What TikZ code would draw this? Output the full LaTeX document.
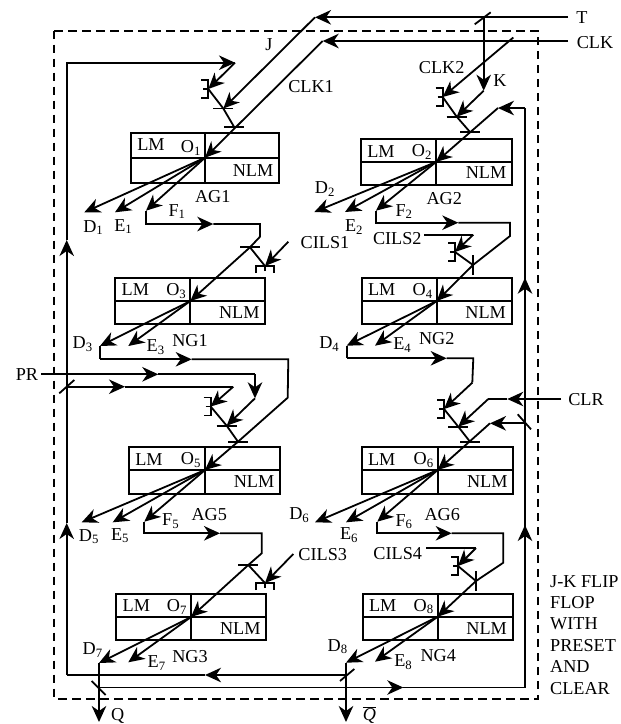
\documentclass[tikz,border=0pt]{standalone}
\usepackage{fontspec}
\setmainfont{Liberation Serif}
\usepackage{tikz}
\usetikzlibrary{arrows.meta}
\begin{document}
\begin{tikzpicture}[
  x=1pt,y=-1pt,
  font=\fontsize{18.2}{21}\selectfont,
  wire/.style={line width=1.8pt,draw=black,line join=miter},
  arr/.style={wire,-{Stealth[length=16pt,width=14.5pt,inset=5pt]}},
  gatebox/.style={line width=1.7pt,draw=black},
  frame/.style={line width=1.8pt,dash pattern=on 8.5pt off 5.5pt},
  lbl/.style={inner sep=0pt},
  bracket/.pic={\draw[wire] (-7,-9)--(0,-9)--(0,9)--(-7,9) (-5,0)--(0,0);},
  barh/.pic={\draw[wire] (-10,0)--(10,0);},
]
\useasboundingbox (0,0) rectangle (621,724);
\draw[frame] (54,30.7) rectangle (538.3,698.7);
\foreach \n/\xa/\ya/\xm/\ym/\xb/\yb in {
  1/131/133/205/157.7/279/182.7,
  2/361/139.3/436/162/512/184.7,
  3/115.3/277.7/190.3/301/265.3/324.3,
  4/361.7/277.7/436.7/301/511.7/324.3,
  5/129/447.3/205/470/280/494,
  6/361.7/447.3/437.7/470/513.3/494,
  7/116.3/594/191/617/266.3/640.3,
  8/362.7/594/437.7/616.7/512.7/640.3}{
  \draw[gatebox] (\xa,\ya) rectangle (\xb,\yb) (\xa,\ym)--(\xb,\ym) (\xm,\ya)--(\xm,\yb);
  \coordinate (o\n) at (\xm,\ym);
  \node[lbl] (lm\n) at (\xa+20,\ya+12) {LM};
  \node[lbl] (nlm\n) at (\xb-26,\yb-12) {NLM};
  \node[lbl] (oname\n) at (\xm-14,\ym-10) {O\textsubscript{\n}};
}
\foreach \n/\x/\y/\t in {
  t/582/18/T, clk/595/43/CLK, j/269/45/J, clkone/311/87/CLK1, clktwo/441.7/68/CLK2, k/500/81/K,
  agone/212.7/196.7/AG1, agtwo/444.3/198.3/AG2, ngone/190/340.7/NG1, ngtwo/436.7/339/NG2,
  agfive/209.3/514.3/AG5, agsix/442.3/514.3/AG6, ngthree/190/656.7/NG3, ngfour/438.3/655.7/NG4,
  cilsone/325/243/CILS1, cilstwo/397.3/238.3/CILS2, cilsthree/322.7/555/CILS3, cilsfour/397.7/553.3/CILS4,
  pr/27/375/PR, clr/586/400/CLR, q/117.7/716/Q,
  da/93.3/227.7/D\textsubscript{1}, ea/123.3/226.7/E\textsubscript{1}, fa/177/211.7/F\textsubscript{1},
  db/325/189/D\textsubscript{2}, eb/354/227.3/E\textsubscript{2}, fb/404/211.7/F\textsubscript{2},
  dc/82.7/344/D\textsubscript{3}, ec/155.7/347.3/E\textsubscript{3},
  dd/329.3/344/D\textsubscript{4}, ed/402.3/345/E\textsubscript{4},
  de/89/536.7/D\textsubscript{5}, ee/120/535.7/E\textsubscript{5}, fe/170.7/521/F\textsubscript{5},
  df/299.3/515/D\textsubscript{6}, ef/349/535/E\textsubscript{6}, ff/404/521.7/F\textsubscript{6},
  dg/92.7/650/D\textsubscript{7}, eg/156.7/663.3/E\textsubscript{7},
  dh/337.7/646.7/D\textsubscript{8}, eh/403.3/662.3/E\textsubscript{8}}{
  \node[lbl] (lab\n) at (\x,\y) {\t};
}
\node[lbl,anchor=south] (labqbar) at (369.5,723.5) {$\overline{\mbox{\textit{Q}}}$};
\node[lbl,anchor=north west,align=left,font=\fontsize{18.2}{21.4}\selectfont] (labff) at (550,575)
  {J-K FLIP\\FLOP\\WITH\\PRESET\\AND\\CLEAR};

\coordinate (tin) at (568,17.3);
\coordinate (tcor) at (315,17.3);
\coordinate (ttap) at (483.7,17.3);
\coordinate (ktip) at (483.7,90.7);
\coordinate (clkin) at (568,41);
\coordinate (clkcor) at (322.7,41);
\coordinate (clktap) at (513.3,37.5);
\coordinate (fbmid) at (205,675);
\coordinate (fbbl) at (66.7,675);
\coordinate (fbupa) at (66.7,523);
\coordinate (fbupb) at (66.7,240);
\coordinate (fbtl) at (66.7,62.7);
\coordinate (fbtr) at (235,62.7);
\coordinate (brka) at (208.3,89);
\coordinate (bara) at (223.3,108.5);
\coordinate (barb) at (234,126.7);
\coordinate (brkb) at (442.7,97);
\coordinate (barc) at (456.7,116.7);
\coordinate (bard) at (470,132);
\coordinate (rtop) at (525,108);
\coordinate (rcor) at (498,108);
\coordinate (rbot) at (525,687.5);
\coordinate (rupa) at (525,525);
\coordinate (rupb) at (525,277.7);

\draw[arr] (tin) -- (tcor);
\draw[arr] (tcor) -- (bara);
\draw[wire] ([shift={(-9,7)}]ttap) -- ([shift={(7,-5)}]ttap);
\draw[arr] (ttap) -- (ktip);
\draw[arr] (ktip) -- (barc);
\draw[arr] (clkin) -- (clkcor);
\draw[arr] (clkcor) -- (o1);
\draw[arr] (clktap) -- (brkb);
\draw[wire] (fbmid) -- (fbbl);
\draw[arr] (fbbl) -- (fbupa);
\draw[arr] (fbupa) -- (fbupb);
\draw[arr] (fbupb) -- (fbtl) -- (fbtr);
\draw[arr] (fbtr) -- (brka);
\pic at (brka) {bracket};
\pic at (brkb) {bracket};
\pic at (bara) {barh};
\pic at (barb) {barh};
\pic at (barc) {barh};
\pic at (bard) {barh};
\draw[wire] (brka) -- (bara) -- (barb);
\draw[wire] (brkb) -- (barc) -- (bard);
\draw[arr] (rcor) -- (o2);
\draw[arr] (rtop) -- (rcor);

% outputs of the first row
\coordinate (dao) at (84.3,212.3);
\coordinate (eao) at (115,212.3);
\coordinate (fao) at (146,210.7);
\coordinate (fal) at (146,224);
\coordinate (fam) at (213.3,224);
\coordinate (far) at (260,224);
\coordinate (fad) at (260,236.7);
\coordinate (bare) at (250,247.3);
\coordinate (brkc) at (265,266);
\coordinate (cilsa) at (288.3,241.7);
\draw[arr] (o1) -- (dao);
\draw[arr] (o1) -- (eao);
\draw[arr] (o1) -- (fao);
\draw[arr] (fao) -- (fal) -- (fam);
\draw[wire] (fam) -- (far) -- (fad) -- (bare);
\draw[arr] (bare) -- (o3);
\draw[wire] (bare) -- (brkc);
\draw[arr] (cilsa) -- (brkc);
\pic at (bare) {barh};
\pic[rotate=90] at (brkc) {bracket};

\coordinate (dbo) at (314.3,212);
\coordinate (ebo) at (345,212);
\coordinate (fbo) at (376,210.7);
\coordinate (fbl) at (376,222.7);
\coordinate (fbm) at (458.3,222.7);
\coordinate (fbr) at (510,222.7);
\coordinate (fbd) at (510,236);
\coordinate (barf) at (473,265);
\coordinate (brkd) at (455,252);
\coordinate (cilsb) at (424,234.7);
\coordinate (cilsc) at (473.3,234.7);
\draw[arr] (o2) -- (dbo);
\draw[arr] (o2) -- (ebo);
\draw[arr] (o2) -- (fbo);
\draw[arr] (fbo) -- (fbl) -- (fbm);
\draw[wire] (fbm) -- (fbr) -- (fbd) -- (barf);
\draw[arr] (barf) -- (o4);
\draw[wire] (brkd) -- (barf);
\draw[wire] (cilsb) -- (cilsc);
\draw[arr] (cilsc) -- (brkd);
\pic at (brkd) {bracket};
\pic[rotate=90] at (barf) {barh};

% second row to third row
\coordinate (dco) at (100,346);
\coordinate (eco) at (128.3,346);
\coordinate (dcl) at (100,359.3);
\coordinate (dcm) at (191.7,359.3);
\coordinate (dcr) at (288.3,359.3);
\coordinate (dcd) at (287.7,397.7);
\coordinate (barg) at (238,441.7);
\coordinate (prin) at (41,374.3);
\coordinate (prm) at (158.3,374.3);
\coordinate (prr) at (255,374.3);
\coordinate (prd) at (255,398.3);
\coordinate (barh) at (226.7,425.7);
\coordinate (prl) at (66.7,386.7);
\coordinate (plm) at (125,386.7);
\coordinate (plr) at (233.3,386.7);
\coordinate (brke) at (210.7,406.5);
\draw[arr] (o3) -- (dco);
\draw[arr] (o3) -- (eco);
\draw[wire] (dco) -- (dcl);
\draw[arr] (dcl) -- (dcm);
\draw[wire] (dcm) -- (dcr) -- (dcd) -- (barg);
\draw[arr] (barg) -- (o5);
\draw[arr] (prin) -- (prm);
\draw[wire] (prm) -- (prr);
\draw[arr] (prr) -- (prd);
\draw[arr] (prd) -- (barh);
\draw[arr] (prl) -- (plm);
\draw[wire] (plm) -- (plr);
\draw[arr] (plr) -- (brke);
\draw[wire] ([shift={(-7.4,6.6)}]prl) -- ([shift={(7.6,-6.7)}]prl);
\draw[wire] (brke) -- (barh) -- (barg);
\pic at (brke) {bracket};
\pic at (barh) {barh};
\pic at (barg) {barh};

\coordinate (ddo) at (346.7,345.7);
\coordinate (edo) at (375,345.7);
\coordinate (ddl) at (346.7,358.3);
\coordinate (ddm) at (446.7,358.3);
\coordinate (ddr) at (473.3,358.3);
\coordinate (ddd) at (472.3,382.7);
\coordinate (brkf) at (444,409);
\coordinate (bari) at (458.3,426.7);
\coordinate (barj) at (470,441.7);
\coordinate (clrin) at (561,399);
\coordinate (clrm) at (507.3,399);
\coordinate (clrc) at (488.3,399);
\coordinate (rtap) at (525,423.3);
\coordinate (rcoro) at (490,423.3);
\draw[arr] (o4) -- (ddo);
\draw[arr] (o4) -- (edo);
\draw[wire] (ddo) -- (ddl);
\draw[arr] (ddl) -- (ddm);
\draw[wire] (ddm) -- (ddr) -- (ddd);
\draw[arr] (ddd) -- (brkf);
\draw[arr] (clrin) -- (clrm);
\draw[wire] (clrm) -- (clrc);
\draw[arr] (clrc) -- (bari);
\draw[arr] (rtap) -- (rcoro);
\draw[arr] (rcoro) -- (o6);
\draw[wire] ([shift={(-7.3,-9)}]rtap) -- ([shift={(6,6)}]rtap);
\draw[wire] (brkf) -- (bari) -- (barj);
\pic at (brkf) {bracket};
\pic at (bari) {barh};
\pic at (barj) {barh};

% third row to fourth row
\coordinate (deo) at (81.7,522.3);
\coordinate (eeo) at (112.7,522.3);
\coordinate (feo) at (144.3,521.7);
\coordinate (fel) at (144.3,533.3);
\coordinate (fem) at (220,533.3);
\coordinate (fer) at (261.7,533.3);
\coordinate (fed) at (261.7,553.3);
\coordinate (bark) at (248.3,565);
\coordinate (brkg) at (265,583);
\coordinate (cilsd) at (293.3,554);
\draw[arr] (o5) -- (deo);
\draw[arr] (o5) -- (eeo);
\draw[arr] (o5) -- (feo);
\draw[arr] (feo) -- (fel) -- (fem);
\draw[wire] (fem) -- (fer) -- (fed) -- (bark);
\draw[arr] (bark) -- (o7);
\draw[wire] (bark) -- (brkg);
\draw[arr] (cilsd) -- (brkg);
\pic at (bark) {barh};
\pic[rotate=90] at (brkg) {bracket};

\coordinate (dfo) at (315,522.3);
\coordinate (efo) at (346,522.3);
\coordinate (ffo) at (377.3,521.7);
\coordinate (ffl) at (377.3,533.3);
\coordinate (ffm) at (451.7,533.3);
\coordinate (ffr) at (503.3,533.3);
\coordinate (ffd) at (503.3,562.7);
\coordinate (barl) at (476,581);
\coordinate (brkh) at (458,566);
\coordinate (cilse) at (426,548);
\coordinate (cilsf) at (476,548);
\draw[arr] (o6) -- (dfo);
\draw[arr] (o6) -- (efo);
\draw[arr] (o6) -- (ffo);
\draw[arr] (ffo) -- (ffl) -- (ffm);
\draw[wire] (ffm) -- (ffr) -- (ffd) -- (barl);
\draw[arr] (barl) -- (o8);
\draw[wire] (brkh) -- (barl);
\draw[wire] (cilse) -- (cilsf);
\draw[arr] (cilsf) -- (brkh);
\pic at (brkh) {bracket};
\pic[rotate=90] at (barl) {barh};

% outputs and feedback
\coordinate (dgo) at (99,663);
\coordinate (ego) at (128.3,662.3);
\coordinate (dho) at (346,662.7);
\coordinate (eho) at (375,661.7);
\coordinate (qout) at (99,722);
\coordinate (qbout) at (346,722);
\coordinate (qtap) at (99,687.5);
\coordinate (qbtap) at (346,675);
\coordinate (rmid) at (403.3,687.5);
\draw[arr] (o7) -- (dgo);
\draw[arr] (o7) -- (ego);
\draw[arr] (o8) -- (dho);
\draw[arr] (o8) -- (eho);
\draw[arr] (dgo) -- (qout);
\draw[arr] (dho) -- (qbout);
\draw[arr] (qbtap) -- (fbmid);
\draw[arr] (qtap) -- (rmid);
\draw[wire] (rmid) -- (rbot) -- (rtop);
\draw[arr] (rbot) -- (rupa);
\draw[arr] (rupa) -- (rupb);
\draw[wire] ([shift={(-7.3,-6.5)}]qtap) -- ([shift={(6.7,7.5)}]qtap);
\draw[wire] ([shift={(-6,6)}]qbtap) -- ([shift={(8.3,-6)}]qbtap);
\end{tikzpicture}
\end{document}
